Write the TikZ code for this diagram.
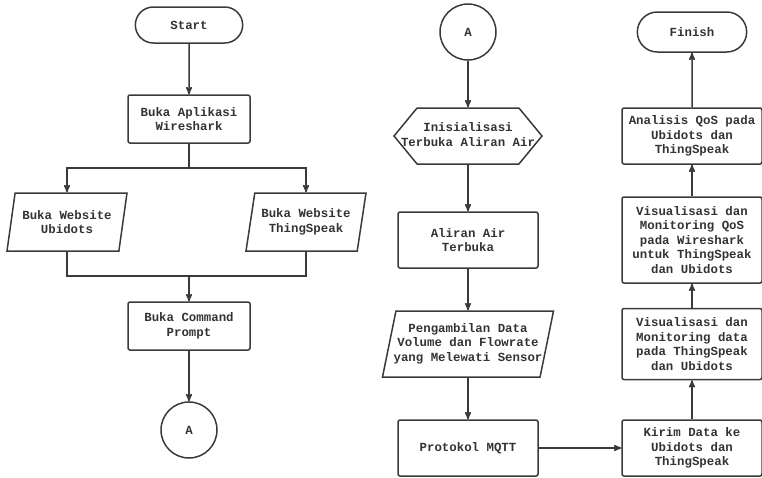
\documentclass[tikz,border=0pt]{standalone}
\usepackage{fontspec}
\setmonofont{Liberation Mono}
\usepackage{xcolor}
\usepackage{tikz}
\usetikzlibrary{shapes.geometric, shapes.misc, shapes.symbols, arrows, positioning}
\definecolor{linegray}{HTML}{3A3A3A}
\definecolor{textgray}{HTML}{333333}
\newcommand{\nowidth}[1]{\makebox[0pt]{\begin{tabular}{@{}c@{}}#1\end{tabular}}}
\tikzstyle{startstop} = [rounded rectangle, minimum width=114pt, minimum height=36pt, text centered, draw=linegray, line width=1.5pt]
\tikzstyle{io} = [trapezium, trapezium left angle=75, trapezium right angle=105, trapezium stretches body, minimum width=120pt, minimum height=58pt, align=center, draw=linegray, line width=1.5pt]
\tikzstyle{process} = [rectangle, rounded corners=2pt, minimum width=140pt, minimum height=56pt, align=center, draw=linegray, line width=1.5pt]
\tikzstyle{prep} = [signal, signal to=west and east, signal pointer angle=101, minimum width=148pt, minimum height=56pt, inner sep=0pt, draw=linegray, line width=1.5pt]
\tikzstyle{connector} = [circle, minimum size=56pt, inner sep=0pt, draw=linegray, line width=1.5pt]
\tikzstyle{line} = [line width=1.5pt, draw=linegray]
\tikzstyle{arrow} = [line width=1.5pt, draw=linegray, ->, >=stealth']

\begin{document}
\begin{tikzpicture}[x=1pt, y=-1pt, node distance=104pt,
    every node/.style={font=\ttfamily\bfseries\fontsize{12.4}{14.5}\selectfont, text=textgray}]
\useasboundingbox (0,0) rectangle (762,477);

% kolom kiri
\node (start) [startstop] at (189,25) {Start};
\node (wireshark) [process, minimum width=122pt, minimum height=48pt] at (189,119) {Buka Aplikasi\\Wireshark};
\node (ubidots) [io] at (67,222) {Buka Website\\Ubidots};
\node (thingspeak) [io] at (306,222) {Buka Website\\ThingSpeak};
\node (cmd) [process, minimum width=122pt, minimum height=48pt] at (189,326) {Buka Command\\Prompt};
\node (conA) [connector, below of=cmd] {A};

\coordinate (split) at (189,168);
\coordinate (merge) at (189,276);

% kolom tengah
\node (conB) [connector] at (468,32) {A};
\node (init) [prep, below of=conB] {\nowidth{Inisialisasi\\Terbuka Aliran Air}};
\node (aliran) [process, below of=init] {Aliran Air\\Terbuka};
\node (ambil) [io, below of=aliran, minimum width=171pt, minimum height=66pt] {\nowidth{Pengambilan Data\\Volume dan Flowrate\\yang Melewati Sensor}};
\node (mqtt) [process, below of=ambil] {Protokol MQTT};

% kolom kanan
\node (kirim) [process] at (692,448) {Kirim Data ke\\Ubidots dan\\ThingSpeak};
\node (visdata) [process, above of=kirim, minimum height=71pt] {Visualisasi dan\\Monitoring data\\pada ThingSpeak\\dan Ubidots};
\node (visqos) [process, above of=visdata, minimum height=86pt] {Visualisasi dan\\Monitoring QoS\\pada Wireshark\\untuk ThingSpeak\\dan Ubidots};
\node (analisis) [process, above of=visqos] {Analisis QoS pada\\Ubidots dan\\ThingSpeak};
\node (finish) [startstop, above of=analisis, minimum width=116pt, minimum height=40pt] {Finish};

\draw [arrow] (start) -- (wireshark);
\draw [arrow] (wireshark.south) -- (split) -| (ubidots.north);
\draw [arrow] (split) -| (thingspeak.north);
\draw [line] (ubidots.south) |- (merge);
\draw [line] (thingspeak.south) |- (merge);
\draw [arrow] (merge) -- (cmd);
\draw [arrow] (cmd) -- (conA);

\draw [arrow] (conB) -- (init);
\draw [arrow] (init) -- (aliran);
\draw [arrow] (aliran) -- (ambil);
\draw [arrow] (ambil) -- (mqtt);
\draw [arrow] (mqtt) -- (kirim);

\draw [arrow] (kirim) -- (visdata);
\draw [arrow] (visdata) -- (visqos);
\draw [arrow] (visqos) -- (analisis);
\draw [arrow] (analisis) -- (finish);

\end{tikzpicture}
\end{document}
